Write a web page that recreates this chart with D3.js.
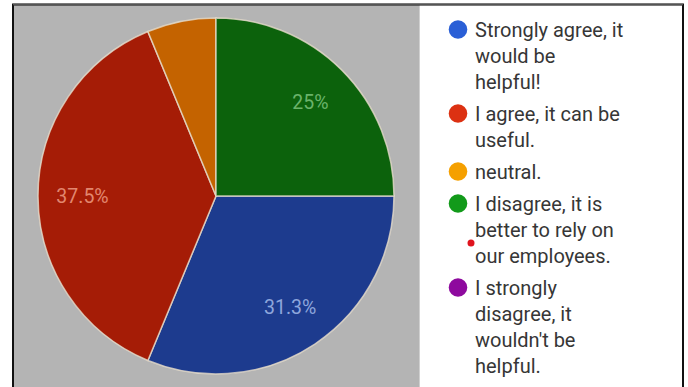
<!DOCTYPE html>
<html>
<head>
<meta charset="utf-8">
<script src="https://cdn.jsdelivr.net/npm/d3@7"></script>
<style>
  body { margin: 0; background: #fff; }
  svg { display: block; }
</style>
</head>
<body>
<div id="chart"></div>
<script>
const width = 688;
const height = 387;

// Data
const categories = ["Strongly agree, it would be helpful!", "I agree, it can be useful.", "neutral.",
    "I disagree, it is better to rely on our employees.", "I strongly disagree, it wouldn't be helpful."]
const counts = [5, 6, 1, 4, 0]
const sliceLabels = ["31.3%", "37.5%", "", "25%", ""]
// legend lines as wrapped in the picture
const legendLines = [
    ["Strongly agree, it", "would be", "helpful!"],
    ["I agree, it can be", "useful."],
    ["neutral."],
    ["I disagree, it is", "better to rely on", "our employees."],
    ["I strongly", "disagree, it", "wouldn't be", "helpful."]
]

// Colors
const sliceColors = ["#1d3b8e", "#a51c06", "#c46300", "#0c620c", "#6a0a6a"]
const labelColors = ["#8ea6dc", "#e2876f", "#eeb060", "#6ab36a", "#c070c0"]
const dotColors = ["#2a5fd6", "#dc3112", "#f5a000", "#129a1a", "#8e0a9e"]

const cx = 216, cy = 196, radius = 178

const svg = d3.select("#chart").append("svg")
    .attr("width", width)
    .attr("height", height)

// gray panel and white legend panel
svg.append("rect")
    .attr("x", 13).attr("y", 5)
    .attr("width", 406).attr("height", height)
    .attr("fill", "#b4b4b4")
svg.append("line")
    .attr("x1", 419.5).attr("x2", 419.5).attr("y1", 5).attr("y2", height)
    .attr("stroke", "#d0d0d0")

// outer frame
svg.append("path")
    .attr("d", "M13," + height + "V4.5H683V" + height)
    .attr("fill", "none")
    .attr("stroke", "#111")
    .attr("stroke-width", 2)
svg.append("line")
    .attr("x1", 13).attr("x2", 683).attr("y1", 4.5).attr("y2", 4.5)
    .attr("stroke", "#555").attr("stroke-width", 1.5)

// Pie
const pie = d3.pie().sort(null).value(d => d)
    .startAngle(Math.PI / 2).endAngle(Math.PI / 2 + 2 * Math.PI)
const arcs = pie(counts).map((a, i) => Object.assign(a, {i: i})).filter(a => a.value > 0)

const arc = d3.arc().innerRadius(0).outerRadius(radius)
const labelArc = d3.arc().innerRadius(radius * 0.75).outerRadius(radius * 0.75)

const g = svg.append("g").attr("transform", "translate(" + cx + "," + cy + ")")

g.selectAll("path.slice")
    .data(arcs)
    .enter()
    .append("path")
    .attr("class", "slice")
    .attr("d", arc)
    .attr("fill", d => sliceColors[d.i])
    .attr("stroke", "#e6dccb")
    .attr("stroke-opacity", 0.8)
    .attr("stroke-width", 1.5)

g.selectAll("text.pct")
    .data(arcs.filter(d => sliceLabels[d.i] !== ""))
    .enter()
    .append("text")
    .attr("class", "pct")
    .attr("transform", d => "translate(" + labelArc.centroid(d) + ")")
    .attr("text-anchor", "middle")
    .attr("dy", "0.36em")
    .attr("font-family", "Roboto, sans-serif")
    .attr("font-size", 19.5)
    .attr("fill", d => labelColors[d.i])
    .text(d => sliceLabels[d.i])

// Legend
const lineH = 26, itemGap = 6, firstBase = 37
const legend = svg.append("g")
let lineCount = 0
legendLines.forEach(function (lines, i) {
    const base = firstBase + lineCount * lineH + i * itemGap
    legend.append("circle")
        .attr("cx", 458)
        .attr("cy", base - 7.5)
        .attr("r", 9.3)
        .attr("fill", dotColors[i])
    const t = legend.append("text")
        .attr("x", 475)
        .attr("y", base)
        .attr("font-family", "Roboto, sans-serif")
        .attr("font-size", 20)
        .attr("fill", "#363636")
    lines.forEach(function (ln, j) {
        t.append("tspan").attr("x", 475).attr("y", base + j * lineH).text(ln)
    })
    lineCount += lines.length
})

// the stray red dot in the legend
legend.append("circle")
    .attr("cx", 471).attr("cy", 243).attr("r", 3.5)
    .attr("fill", "#e0141e")
</script>
</body>
</html>
